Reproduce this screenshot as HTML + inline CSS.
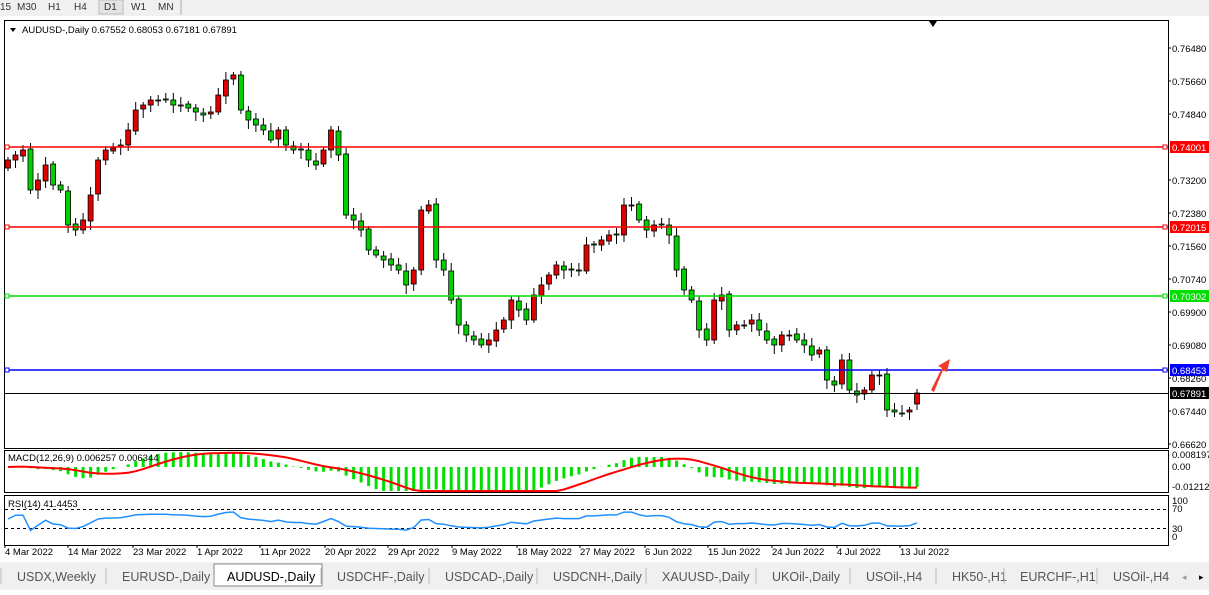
<!DOCTYPE html>
<html><head><meta charset="utf-8"><style>
body{margin:0;width:1209px;height:590px;overflow:hidden;background:#fff;font-family:"Liberation Sans",sans-serif}
svg text{font-family:"Liberation Sans",sans-serif;font-size:9.5px}
</style></head><body>
<svg id="s" width="1209" height="590" xmlns="http://www.w3.org/2000/svg">
<rect x="0" y="0" width="1209" height="16" fill="#f0f0f0"/>
<rect x="0" y="16" width="1209" height="546" fill="#fff"/>
<rect x="0" y="562" width="1209" height="28" fill="#f0f0f0"/>
<g font-size="10" fill="#333">
<text x="0" y="10" style="font-size:10px">15</text><text x="17" y="10" style="font-size:10px">M30</text><text x="48" y="10" style="font-size:10px">H1</text><text x="74" y="10" style="font-size:10px">H4</text>
<rect x="99" y="0" width="24" height="14" fill="#e4e4e4" stroke="#bbb"/><text x="104" y="10" style="font-size:10px">D1</text><text x="131" y="10" style="font-size:10px">W1</text><text x="158" y="10" style="font-size:10px">MN</text>
<line x1="181" y1="0" x2="181" y2="15" stroke="#aaa"/>
</g>
<rect x="4.5" y="20.5" width="1164" height="428" fill="none" stroke="#000"/>
<rect x="4.5" y="450.5" width="1164" height="42" fill="none" stroke="#000"/>
<rect x="4.5" y="495.5" width="1164" height="50" fill="none" stroke="#000"/>
<g id="g"></g>
<text x="22" y="33" fill="#000">AUDUSD-,Daily  0.67552 0.68053 0.67181 0.67891</text>
<polygon points="10,28 16,28 13,32" fill="#000"/>
<polygon points="929,21 937,21 933,27" fill="#000"/>
<polygon points="931,390 942,368 938,366 950,359 947,372 943,370 934,392" fill="#f03a2a"/>
</svg>
<script>
var cy=[160,155,150,190,180,165,185,190,225,230,220,195,160,150,148,145,130,110,105,100,100,100,105,105,108,112,115,112,95,80,75,110,120,125,130,140,130,145,150,150,160,165,150,130,155,215,220,230,250,255,260,265,270,285,270,210,205,260,270,300,325,335,340,345,340,330,320,300,310,320,295,285,275,265,270,270,270,245,245,240,235,235,205,205,220,230,225,225,235,270,290,300,330,340,300,295,330,325,325,320,330,340,345,335,335,340,345,355,350,380,385,360,390,395,390,375,375,410,412,413,410,395];
var N=cy.length,x0=8,dx=(917-8)/(N-1),s='';
function P(y){return 0.7648-(y-48)/4016}
var opn=[];
for(var i=0;i<N;i++){opn.push(i?cy[i-1]+(i%3-1):cy[0]+8);}
opn[N-1]=404;cy[N-1]=393;
for(var i=0;i<N;i++){var x=x0+i*dx,o=opn[i],c=cy[i],t=Math.min(o,c),b=Math.max(o,c);if(b-t<1)b=t+1;
var col=c<o?'#e00000':'#00d000';var hi=t-3-(i*7%6),lo=b+3+(i*5%7);
s+='<line x1="'+x.toFixed(1)+'" y1="'+hi+'" x2="'+x.toFixed(1)+'" y2="'+lo+'" stroke="#000"/>';
s+='<rect x="'+(x-2.5).toFixed(1)+'" y="'+t+'" width="5" height="'+(b-t)+'" fill="'+col+'" stroke="#000" stroke-width="0.8"/>';}
var hl=[[147,'#ff0000','0.74001'],[227,'#ff0000','0.72015'],[296,'#00dd00','0.70302'],[370,'#0000ff','0.68453']];
hl.forEach(function(h){s+='<line x1="5" y1="'+h[0]+'" x2="1168" y2="'+h[0]+'" stroke="'+h[1]+'" stroke-width="1.5"/><rect x="5" y="'+(h[0]-2)+'" width="4" height="4" fill="#fff" stroke="'+h[1]+'"/><rect x="1163" y="'+(h[0]-2)+'" width="4" height="4" fill="#fff" stroke="'+h[1]+'"/><rect x="1170" y="'+(h[0]-6)+'" width="39" height="12" fill="'+h[1]+'"/><text x="1172" y="'+(h[0]+4)+'" fill="#fff">'+h[2]+'</text>';});
s+='<line x1="5" y1="393.5" x2="1168" y2="393.5" stroke="#000"/><rect x="1170" y="387" width="39" height="12" fill="#000"/><text x="1172" y="397" fill="#fff">0.67891</text>';
[[48,'0.76480'],[81,'0.75660'],[114,'0.74840'],[180,'0.73200'],[213,'0.72380'],[246,'0.71560'],[279,'0.70740'],[312,'0.69900'],[345,'0.69080'],[378,'0.68260'],[411,'0.67440'],[444,'0.66620']].forEach(function(a){s+='<line x1="1168" y1="'+a[0]+'" x2="1171" y2="'+a[0]+'" stroke="#000"/><text x="1172" y="'+(a[0]+4)+'">'+a[1]+'</text>';});
var pr=cy.map(P),e12=pr[0],e26=pr[0],m=[];
for(var i=0;i<N;i++){e12=e12+(pr[i]-e12)*2/13;e26=e26+(pr[i]-e26)*2/27;m.push(e12-e26);}
var sg=[];for(var i=0;i<N;i++){var a=0,k=0;for(var j=Math.max(0,i-8);j<=i;j++){a+=m[j];k++;}sg.push(a/k);}
function my(v){return 467-v*(26/0.008197);}
for(var i=0;i<N;i++){var x=x0+i*dx,y=my(m[i]);s+='<line x1="'+x.toFixed(1)+'" y1="467" x2="'+x.toFixed(1)+'" y2="'+Math.max(452,Math.min(491,y)).toFixed(1)+'" stroke="#00e000" stroke-width="3"/>';}
s+='<polyline fill="none" stroke="#ff0000" stroke-width="2" points="'+sg.map(function(v,i){return (x0+i*dx).toFixed(1)+','+Math.max(452,Math.min(491,my(v))).toFixed(1)}).join(' ')+'"/>';
s+='<text x="8" y="461" fill="#000">MACD(12,26,9) 0.006257 0.006344</text>';
s+='<text x="1172" y="458">0.008197</text><text x="1172" y="470">0.00</text><text x="1172" y="490">-0.01212</text>';
var ag=0,al=0,r=[50];for(var i=1;i<N;i++){var d=pr[i]-pr[i-1],g=d>0?d:0,l=d<0?-d:0;if(i<=14){ag+=g/14;al+=l/14;}else{ag=(ag*13+g)/14;al=(al*13+l)/14;}r.push(al==0?60:100-100/(1+ag/al));}
function ry(v){return 538-v*0.38;}
s+='<line x1="5" y1="509.5" x2="1168" y2="509.5" stroke="#000" stroke-dasharray="3,3"/><line x1="5" y1="528.5" x2="1168" y2="528.5" stroke="#000" stroke-dasharray="3,3"/>';
s+='<polyline fill="none" stroke="#1e90ff" stroke-width="1.5" points="'+r.map(function(v,i){return (x0+i*dx).toFixed(1)+','+ry(v).toFixed(1)}).join(' ')+'"/>';
s+='<text x="8" y="507" fill="#000">RSI(14) 41.4453</text><text x="1172" y="504">100</text><text x="1172" y="512">70</text><text x="1172" y="532">30</text><text x="1172" y="540">0</text>';
[[5,'4 Mar 2022'],[68,'14 Mar 2022'],[133,'23 Mar 2022'],[197,'1 Apr 2022'],[260,'11 Apr 2022'],[325,'20 Apr 2022'],[388,'29 Apr 2022'],[452,'9 May 2022'],[517,'18 May 2022'],[580,'27 May 2022'],[645,'6 Jun 2022'],[708,'15 Jun 2022'],[772,'24 Jun 2022'],[837,'4 Jul 2022'],[900,'13 Jul 2022']].forEach(function(a){s+='<line x1="'+a[0]+'" y1="545" x2="'+a[0]+'" y2="548" stroke="#000"/><text x="'+a[0]+'" y="555">'+a[1]+'</text>';});
var tb=[[5,'USDX,Weekly'],[110,'EURUSD-,Daily'],[215,'AUDUSD-,Daily'],[325,'USDCHF-,Daily'],[433,'USDCAD-,Daily'],[541,'USDCNH-,Daily'],[650,'XAUUSD-,Daily'],[760,'UKOil-,Daily'],[854,'USOil-,H4'],[940,'HK50-,H1'],[1008,'EURCHF-,H1'],[1101,'USOil-,H4']];
tb.forEach(function(a,i){if(i==2)s+='<rect x="214" y="564" width="108" height="22" fill="#fff" stroke="#888"/>';else s+='<line x1="'+(a[0]-4)+'" y1="568" x2="'+(a[0]-4)+'" y2="584" stroke="#bbb"/>';s+='<text x="'+(a[0]+12)+'" y="581" style="font-size:12.5px" fill="'+(i==2?'#000':'#555')+'">'+a[1]+'</text>';});
s+='<text x="1182" y="580" style="font-size:9px" fill="#999">◂</text><text x="1199" y="580" style="font-size:9px">▸</text>';
document.getElementById('g').innerHTML=s;
</script>
</body></html>
